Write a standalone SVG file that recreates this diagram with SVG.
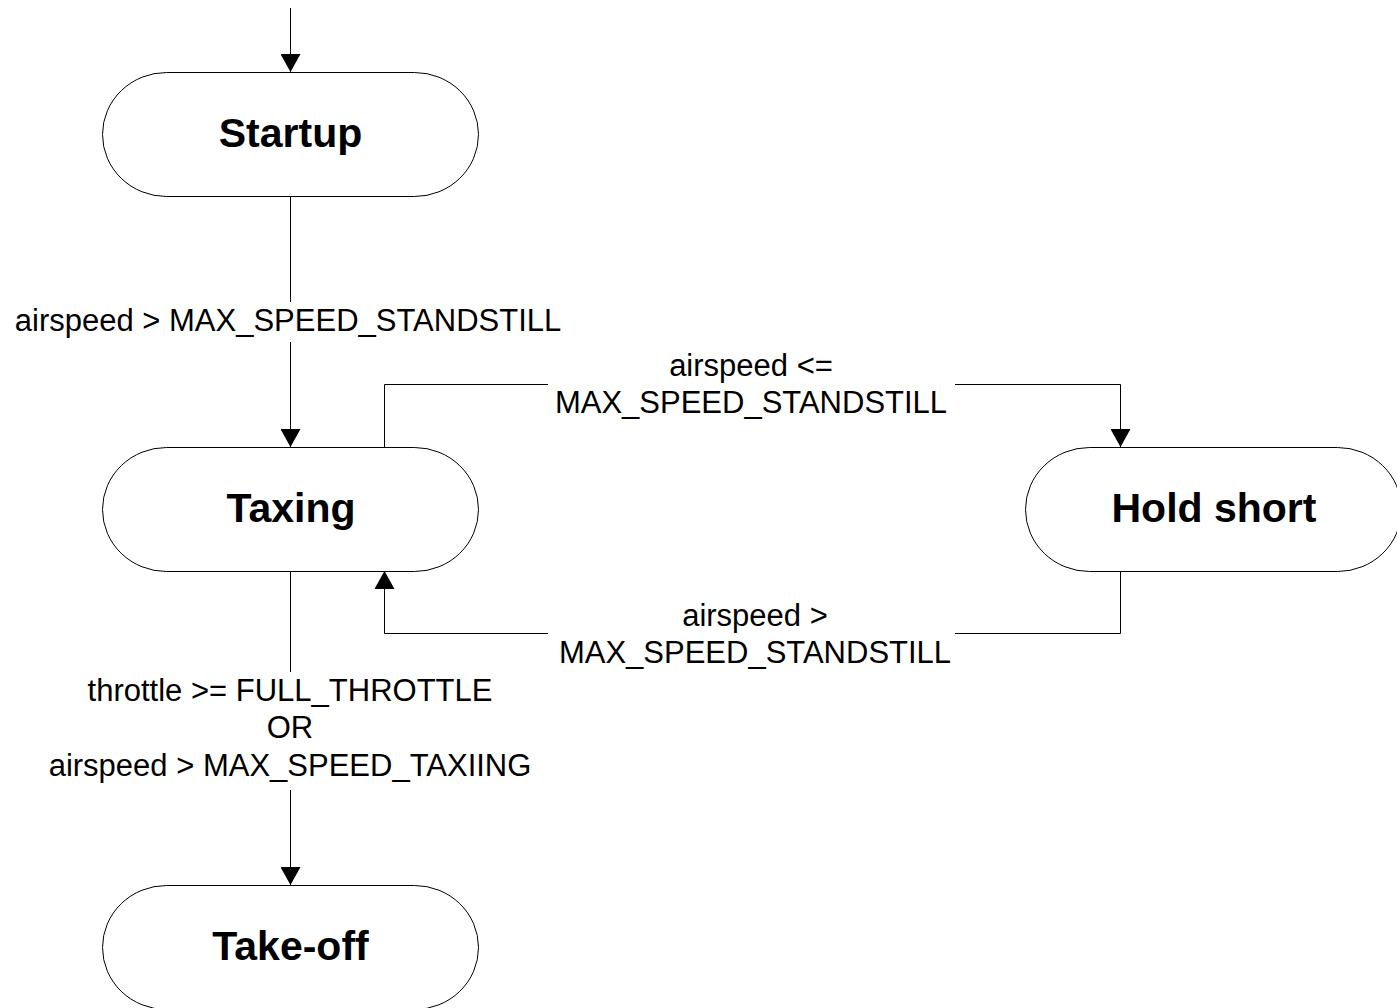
<svg xmlns="http://www.w3.org/2000/svg" width="1397" height="1008" viewBox="0 0 1397 1008">
<style>
.node{fill:#fff;stroke:#000;stroke-width:1}
.ntext{font-family:"Liberation Sans",Arial,sans-serif;font-weight:bold;font-size:41px;fill:#000;text-anchor:middle}
.conn{fill:none;stroke:#000;stroke-width:1}
.lbl{font-family:"Liberation Sans",Arial,sans-serif;font-size:31px;fill:#000;text-anchor:middle}
.bg{fill:#fff;stroke:none}
</style>
<defs>
<marker id="arr" markerUnits="userSpaceOnUse" markerWidth="22" markerHeight="20" refX="18" refY="10" orient="auto">
<path d="M0,0 L18,10 L0,20 Z" fill="#000"/>
</marker>
</defs>
<rect width="1397" height="1008" fill="#fff"/>
<g id="connectors">
<path class="conn" d="M290.5,8 V72" marker-end="url(#arr)"/>
<path class="conn" d="M290.5,196 V447" marker-end="url(#arr)"/>
<path class="conn" d="M384.5,447 V384.5 H1120.5 V447" marker-end="url(#arr)"/>
<path class="conn" d="M1120.5,571 V633.5 H384.5 V571" marker-end="url(#arr)"/>
<path class="conn" d="M290.5,571 V885" marker-end="url(#arr)"/>
<g id="label-startup-taxing">
<rect class="bg" x="8" y="302" width="560" height="40"/>
<text class="lbl" x="288" y="331">airspeed &gt; MAX_SPEED_STANDSTILL</text>
</g>
<g id="label-taxing-hold">
<rect class="bg" x="548" y="346" width="407" height="78"/>
<text class="lbl" x="751" y="376">airspeed &lt;=</text>
<text class="lbl" x="751" y="413">MAX_SPEED_STANDSTILL</text>
</g>
<g id="label-hold-taxing">
<rect class="bg" x="548" y="596" width="407" height="78"/>
<text class="lbl" x="755" y="626">airspeed &gt;</text>
<text class="lbl" x="755" y="663">MAX_SPEED_STANDSTILL</text>
</g>
<g id="label-taxing-takeoff">
<rect class="bg" x="40" y="672" width="500" height="118"/>
<text class="lbl" x="290" y="701">throttle &gt;= FULL_THROTTLE</text>
<text class="lbl" x="290" y="738">OR</text>
<text class="lbl" x="290" y="776">airspeed &gt; MAX_SPEED_TAXIING</text>
</g>
</g>
<g id="startup">
<rect class="node" x="102.5" y="72.5" width="376" height="124" rx="64" ry="62"/>
<text class="ntext" x="290.5" y="147">Startup</text>
</g>
<g id="taxing">
<rect class="node" x="102.5" y="447.5" width="376" height="124" rx="64" ry="62"/>
<text class="ntext" x="291" y="522">Taxing</text>
</g>
<g id="hold-short">
<rect class="node" x="1025.5" y="447.5" width="376" height="124" rx="64" ry="62"/>
<text class="ntext" x="1214" y="522">Hold short</text>
</g>
<g id="take-off">
<rect class="node" x="102.5" y="885.5" width="376" height="124" rx="64" ry="62"/>
<text class="ntext" x="290.5" y="960">Take-off</text>
</g>
</svg>
